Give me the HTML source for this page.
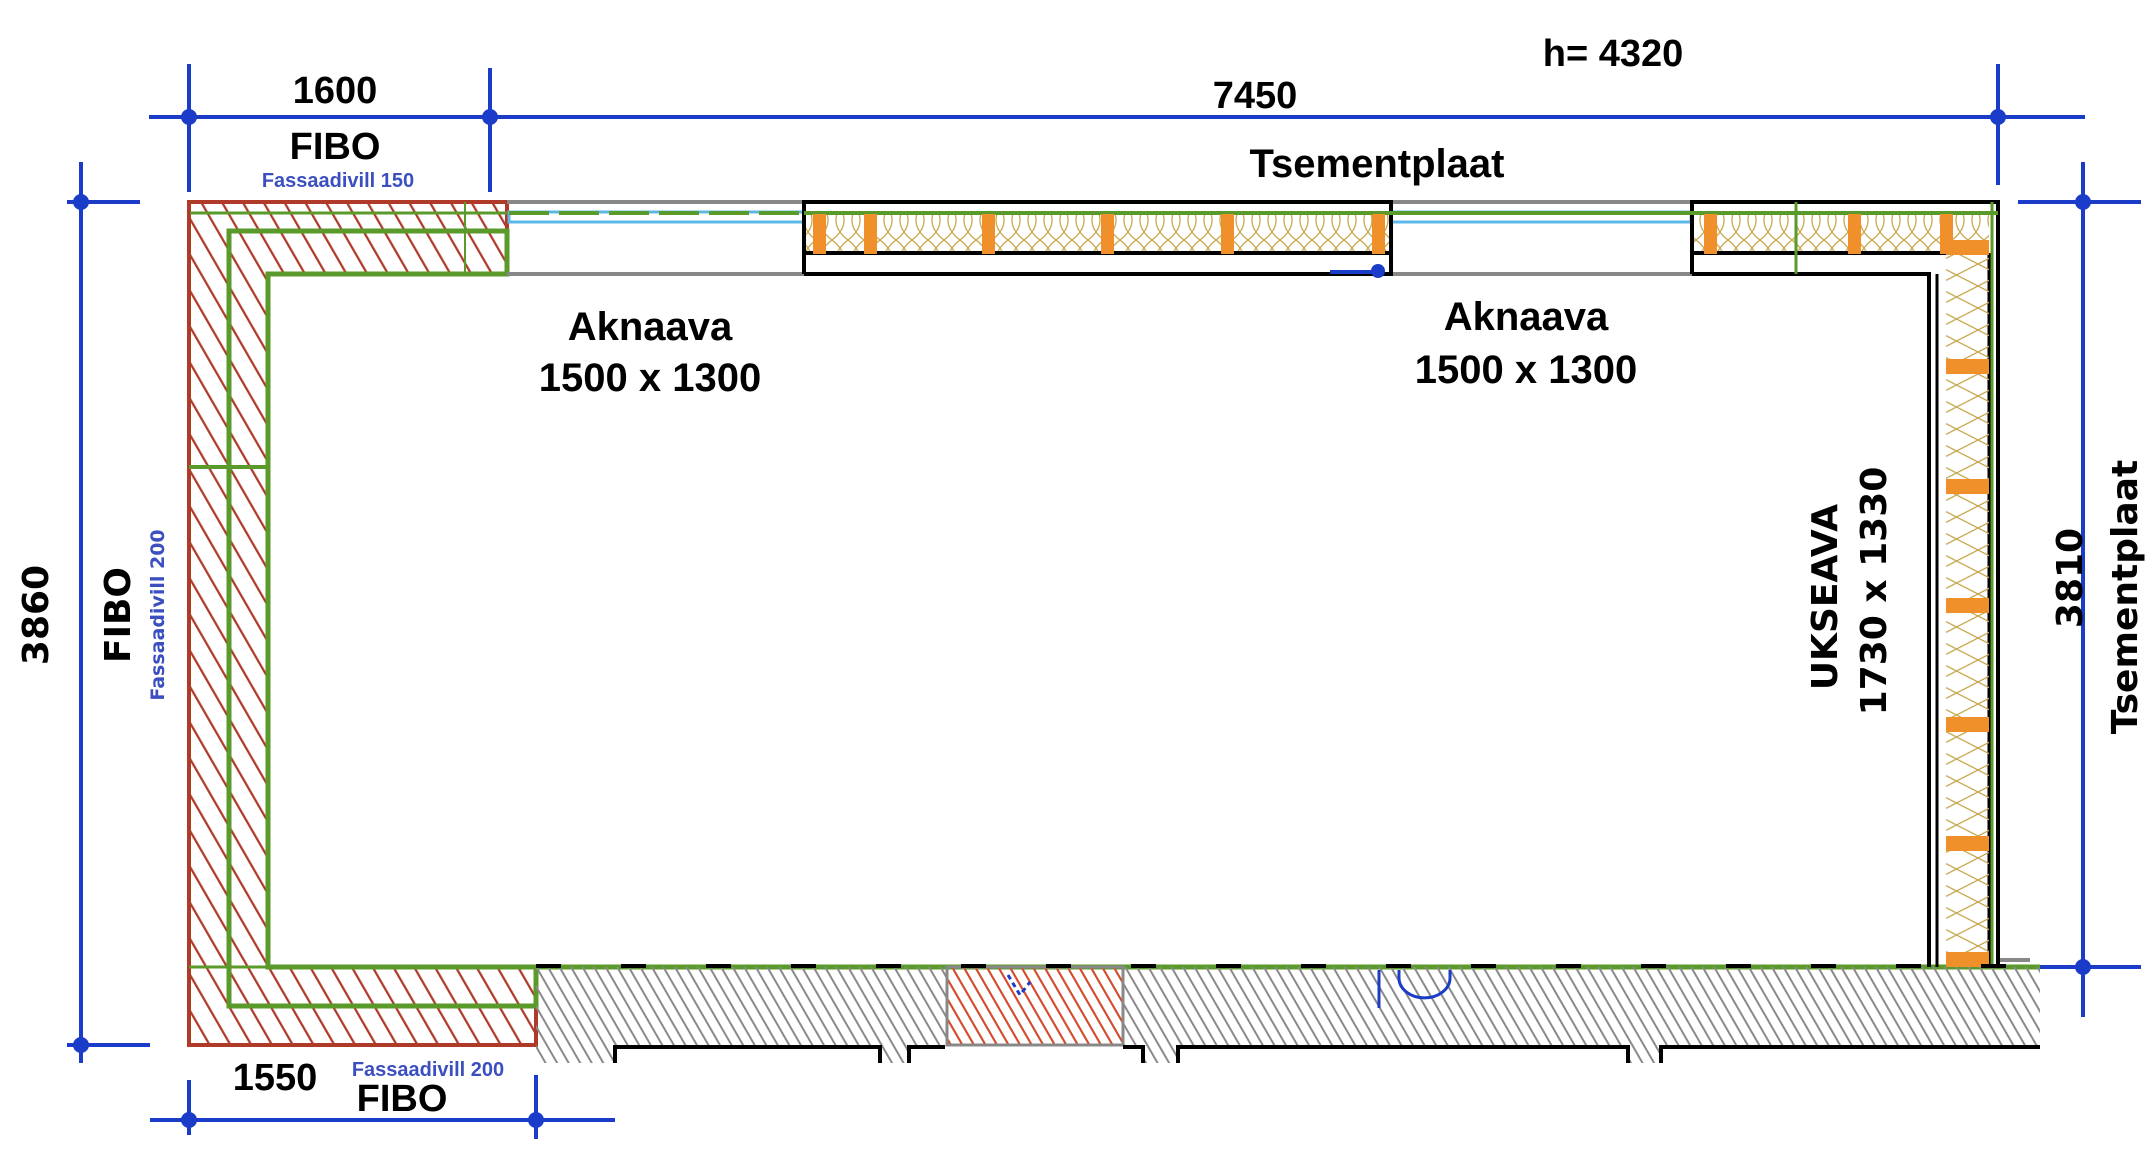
<!DOCTYPE html>
<html><head><meta charset="utf-8"><style>
html,body{margin:0;padding:0;background:#fff;}
svg{display:block;}
.t{font-family:"Liberation Sans",sans-serif;font-weight:bold;fill:#000;}
.d{font-family:"DejaVu Sans","Liberation Sans",sans-serif;font-weight:bold;fill:#000;}
.b{font-family:"Liberation Sans",sans-serif;font-weight:bold;fill:#3b4fc0;}
</style></head><body>
<svg width="2156" height="1159" viewBox="0 0 2156 1159" xmlns="http://www.w3.org/2000/svg">
<defs>
<pattern id="red" patternUnits="userSpaceOnUse" width="18" height="18" patternTransform="rotate(-30)">
<line x1="0" y1="0" x2="0" y2="18" stroke="#b03a2a" stroke-width="4.5"/></pattern>
<pattern id="gray" patternUnits="userSpaceOnUse" width="10" height="10" patternTransform="rotate(-30)">
<line x1="0" y1="0" x2="0" y2="10" stroke="#8a8a8a" stroke-width="4"/></pattern>
<pattern id="org" patternUnits="userSpaceOnUse" width="10" height="10" patternTransform="rotate(-30)">
<line x1="0" y1="0" x2="0" y2="10" stroke="#d94a2a" stroke-width="4"/></pattern>
<pattern id="ins" patternUnits="userSpaceOnUse" width="16" height="40">
<path d="M0 0 C16 12 16 28 0 40 M16 0 C0 12 0 28 16 40" fill="none" stroke="#c8a850" stroke-width="1.3"/></pattern>
<pattern id="insv" patternUnits="userSpaceOnUse" width="43" height="22">
<path d="M0 0 L43 22 M43 0 L0 22" fill="none" stroke="#c8a850" stroke-width="1.3"/></pattern>
</defs>

<g stroke="#1a3cc8" stroke-width="4" fill="#1a3cc8">
<line x1="149" y1="117" x2="2085" y2="117"/>
<line x1="189" y1="64" x2="189" y2="192"/>
<line x1="490" y1="68" x2="490" y2="192"/>
<line x1="1998" y1="64" x2="1998" y2="185"/>
<circle cx="189" cy="117" r="6"/><circle cx="490" cy="117" r="6"/><circle cx="1998" cy="117" r="6"/>
<line x1="81" y1="162" x2="81" y2="1063"/>
<line x1="67" y1="202" x2="140" y2="202"/><line x1="67" y1="1045" x2="150" y2="1045"/>
<circle cx="81" cy="202" r="6"/><circle cx="81" cy="1045" r="6"/>
<line x1="2083" y1="162" x2="2083" y2="1017"/>
<line x1="2018" y1="202" x2="2141" y2="202"/><line x1="2034" y1="967" x2="2141" y2="967"/>
<circle cx="2083" cy="202" r="6"/><circle cx="2083" cy="967" r="6"/>
<line x1="150" y1="1120" x2="615" y2="1120"/>
<line x1="189" y1="1080" x2="189" y2="1135"/><line x1="536" y1="1075" x2="536" y2="1139"/>
<circle cx="189" cy="1120" r="6"/><circle cx="536" cy="1120" r="6"/>
</g>

<path d="M189 202 H507 V274 H268 V967 H536 V1045 H189 Z" fill="url(#red)" stroke="#b03a2a" stroke-width="4"/>
<g stroke="#5a9a2a" stroke-width="5" fill="none">
<path d="M229 1006 V231 H507 V274 H268 V967 H536 V1006 Z"/>
<line x1="190" y1="213" x2="507" y2="213" stroke-width="3"/>
<line x1="189" y1="467" x2="268" y2="467" stroke-width="4"/>
<line x1="189" y1="967" x2="268" y2="967" stroke-width="3"/>
<line x1="465" y1="202" x2="465" y2="274" stroke-width="2"/>
<line x1="536" y1="967" x2="2040" y2="967"/>
</g>

<g stroke="#888" stroke-width="4">
<line x1="507" y1="202" x2="804" y2="202"/><line x1="507" y1="274" x2="804" y2="274"/>
<line x1="1391" y1="202" x2="1692" y2="202"/><line x1="1391" y1="274" x2="1692" y2="274"/>
</g>
<g stroke="#5bb8e8" stroke-width="3" fill="none">
<rect x="509" y="212" width="295" height="10"/><rect x="1391" y="212" width="300" height="10"/>
</g>
<g stroke="#5a9a2a" stroke-width="4" stroke-dasharray="40 10">
<line x1="509" y1="213" x2="804" y2="213"/><line x1="1391" y1="213" x2="1692" y2="213"/>
</g>

<rect x="806" y="213" width="585" height="40" fill="url(#ins)"/>
<rect x="1692" y="213" width="297" height="40" fill="url(#ins)"/>
<g fill="none" stroke="#000" stroke-width="4">
<path d="M804 274 V202 H1391 V274 H804"/>
<line x1="804" y1="253" x2="1391" y2="253"/>
<path d="M1692 274 V202 H1998 V967"/>
<path d="M1692 274 H1929 V967"/><line x1="1937" y1="274" x2="1937" y2="967" stroke-width="3"/>
<line x1="1692" y1="253" x2="1946" y2="253"/>
<line x1="1989" y1="253" x2="1989" y2="967" stroke-width="3"/>
</g>
<line x1="804" y1="213" x2="1998" y2="213" stroke="#5a9a2a" stroke-width="4"/>
<line x1="1796" y1="202" x2="1796" y2="274" stroke="#5a9a2a" stroke-width="3"/>
<line x1="1992" y1="202" x2="1992" y2="967" stroke="#5a9a2a" stroke-width="3"/>
<rect x="1946" y="253" width="43" height="714" fill="url(#insv)"/>
<g fill="#f0902a">
<rect x="813" y="214" width="13" height="40"/><rect x="864" y="214" width="13" height="40"/>
<rect x="982" y="214" width="13" height="40"/><rect x="1101" y="214" width="13" height="40"/>
<rect x="1221" y="214" width="13" height="40"/><rect x="1372" y="214" width="13" height="40"/>
<rect x="1704" y="214" width="13" height="40"/><rect x="1848" y="214" width="13" height="40"/>
<rect x="1940" y="214" width="13" height="40"/>
<rect x="1946" y="240" width="43" height="15"/>
<rect x="1946" y="359" width="43" height="15"/><rect x="1946" y="479" width="43" height="15"/>
<rect x="1946" y="598" width="43" height="15"/><rect x="1946" y="717" width="43" height="15"/>
<rect x="1946" y="836" width="43" height="15"/><rect x="1946" y="952" width="43" height="15"/>
</g>
<circle cx="1378" cy="271" r="7" fill="#1a3cc8"/>
<line x1="1330" y1="272" x2="1378" y2="272" stroke="#1a3cc8" stroke-width="4"/>

<rect x="536" y="967" width="1504" height="78" fill="url(#gray)"/>
<rect x="947" y="967" width="176" height="78" fill="url(#org)" stroke="#888" stroke-width="3"/>
<g fill="url(#gray)"><rect x="880" y="1045" width="29" height="18"/><rect x="1143" y="1045" width="35" height="18"/><rect x="1628" y="1045" width="33" height="18"/><rect x="536" y="1045" width="79" height="18"/></g>
<g fill="none" stroke="#000" stroke-width="4">
<path d="M615 1063 V1047 H880 V1063"/><path d="M909 1063 V1047 H945"/>
<path d="M1123 1047 H1143 V1063"/><path d="M1178 1063 V1047 H1628 V1063"/><path d="M1661 1063 V1047 H2040"/>
</g>
<g stroke="#000" stroke-width="4" stroke-dasharray="25 60"><line x1="536" y1="966" x2="2040" y2="966"/></g>
<line x1="2000" y1="960" x2="2030" y2="960" stroke="#888" stroke-width="4"/>
<g stroke="#1a3cc8" stroke-width="3" fill="none">
<line x1="1379" y1="970" x2="1379" y2="1008"/><path d="M1399 970 V978 A18 14 0 0 0 1450 978 V970"/>
<path d="M1008 975 L1020 995 L1030 982" stroke-dasharray="5 4"/>
</g>

<text class="t" x="335" y="103" font-size="38" text-anchor="middle">1600</text>
<text class="t" x="335" y="159" font-size="38" text-anchor="middle">FIBO</text>
<text class="b" x="338" y="187" font-size="20" text-anchor="middle">Fassaadivill 150</text>
<text class="t" x="1255" y="108" font-size="38" text-anchor="middle">7450</text>
<text class="t" x="1613" y="66" font-size="38" text-anchor="middle">h= 4320</text>
<text class="t" x="1377" y="177" font-size="40" text-anchor="middle">Tsementplaat</text>
<text class="t" x="650" y="340" font-size="40" text-anchor="middle">Aknaava</text>
<text class="t" x="650" y="391" font-size="40" text-anchor="middle">1500 x 1300</text>
<text class="t" x="1526" y="330" font-size="40" text-anchor="middle">Aknaava</text>
<text class="t" x="1526" y="383" font-size="40" text-anchor="middle">1500 x 1300</text>
<text class="t" x="275" y="1090" font-size="38" text-anchor="middle">1550</text>
<text class="b" x="428" y="1076" font-size="20" text-anchor="middle">Fassaadivill 200</text>
<text class="t" x="402" y="1111" font-size="38" text-anchor="middle">FIBO</text>
<text class="d" transform="translate(48,615) rotate(-90)" font-size="36" text-anchor="middle">3860</text>
<text class="d" transform="translate(130,615) rotate(-90)" font-size="36" text-anchor="middle">FIBO</text>
<text class="b" transform="translate(164,615) rotate(-90)" font-size="19" text-anchor="middle" style="font-family:'DejaVu Sans',sans-serif">Fassaadivill 200</text>
<text class="d" transform="translate(1837,597) rotate(-90)" font-size="36" text-anchor="middle">UKSEAVA</text>
<text class="d" transform="translate(1886,591) rotate(-90)" font-size="36" text-anchor="middle">1730 x 1330</text>
<text class="d" transform="translate(2082,578) rotate(-90)" font-size="36" text-anchor="middle">3810</text>
<text class="d" transform="translate(2137,597) rotate(-90)" font-size="36" text-anchor="middle">Tsementplaat</text>
</svg>
</body></html>
